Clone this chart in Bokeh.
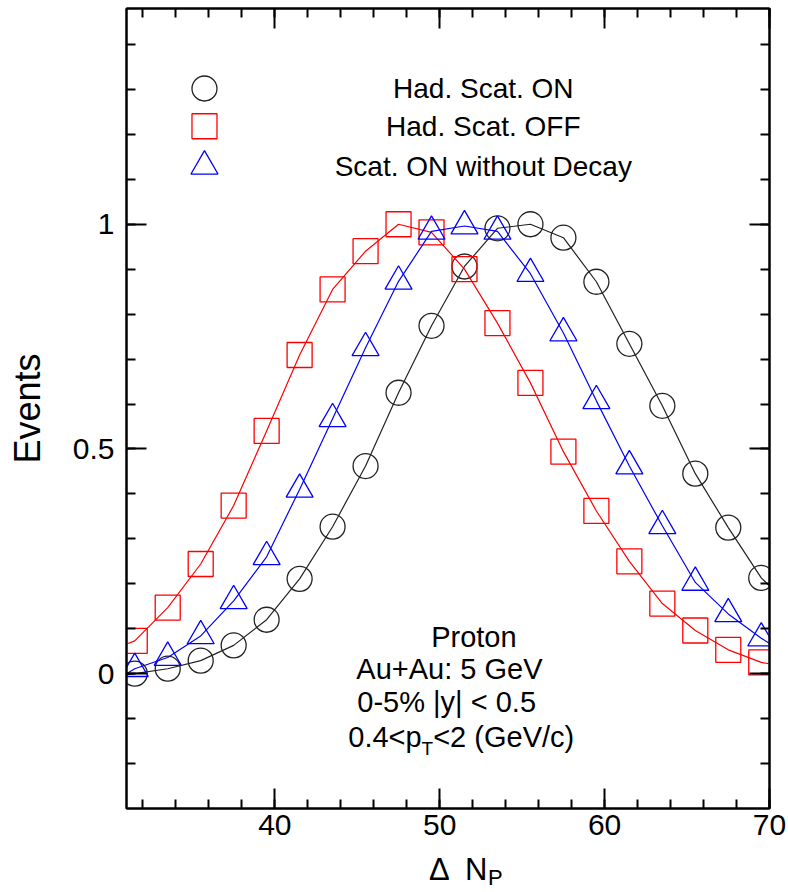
from bokeh.plotting import figure
from bokeh.models import LinearAxis, SingleIntervalTicker, CustomJSTickFormatter, Label, Div
from bokeh.layouts import column
from bokeh.core.properties import value
from bokeh.embed import file_html
from bokeh.resources import INLINE

FONT = "Liberation Sans"

# ---- data ----
delta_np = [31.5, 33.5, 35.5, 37.5, 39.5, 41.5, 43.5, 45.5, 47.5, 49.5,
            51.5, 53.5, 55.5, 57.5, 59.5, 61.5, 63.5, 65.5, 67.5, 69.5]
had_scat_on = [0.0, 0.011, 0.029, 0.063, 0.12, 0.211, 0.327, 0.462, 0.625, 0.774,
               0.906, 0.991, 1.0, 0.97, 0.872, 0.734, 0.596, 0.445, 0.325, 0.213]
had_scat_off = [0.073, 0.147, 0.244, 0.374, 0.54, 0.709, 0.855, 0.94, 1.0, 0.982,
                0.9, 0.78, 0.647, 0.494, 0.362, 0.25, 0.156, 0.096, 0.053, 0.025]
scat_on_no_decay = [0.011, 0.036, 0.084, 0.162, 0.26, 0.41, 0.567, 0.725, 0.873, 0.984,
                    0.996, 0.984, 0.89, 0.758, 0.607, 0.462, 0.329, 0.203, 0.133, 0.079]

# fitted curves: value at the frame edges (x = 31 and x = 70)
curve_edges_x = [31.0, 70.0]
had_scat_on_edges = [-0.003, 0.195]
had_scat_off_edges = [0.066, 0.022]
scat_on_no_decay_edges = [0.0, 0.067]

legend_labels = ["Had. Scat. ON", "Had. Scat. OFF", "Scat. ON without Decay"]
series_colors = ["#222222", "#ff0000", "#0000ff"]
series_markers = ["circle", "square", "triangle"]

p = figure(width=788, height=850, x_range=(31, 70), y_range=(-0.3, 1.48),
           output_backend="svg", toolbar_location=None,
           min_border_left=126, min_border_right=19, min_border_top=8, min_border_bottom=42)
p.grid.visible = False
p.outline_line_color = "black"
p.outline_line_width = 2
p.background_fill_color = "white"
p.border_fill_color = "white"


def style_axis(ax, interval, show_labels):
    ax.ticker = SingleIntervalTicker(interval=interval, num_minor_ticks=5)
    ax.axis_line_width = 2
    ax.axis_line_color = "black"
    ax.major_tick_in = 20
    ax.major_tick_out = 0
    ax.minor_tick_in = 9
    ax.minor_tick_out = 0
    ax.major_tick_line_width = 2
    ax.minor_tick_line_width = 2
    ax.major_label_text_font = FONT
    ax.major_label_text_font_size = "30px"
    ax.major_label_text_color = "black"
    if not show_labels:
        ax.formatter = CustomJSTickFormatter(code="return ''")
        ax.major_label_standoff = 0
        ax.major_label_text_font_size = "1px"


style_axis(p.xaxis[0], 10, True)
style_axis(p.yaxis[0], 0.5, True)
p.yaxis[0].formatter = CustomJSTickFormatter(code="return String(Math.round(tick*100)/100)")
p.xaxis[0].major_label_standoff = 6
p.yaxis[0].major_label_standoff = 12
p.yaxis[0].axis_label = "Events"
p.yaxis[0].axis_label_text_font = FONT
p.yaxis[0].axis_label_text_font_size = "36px"
p.yaxis[0].axis_label_text_font_style = "normal"
p.yaxis[0].axis_label_text_color = "black"
p.yaxis[0].axis_label_standoff = 22

top_ax = LinearAxis()
style_axis(top_ax, 10, False)
p.add_layout(top_ax, "above")
right_ax = LinearAxis()
style_axis(right_ax, 0.5, False)
p.add_layout(right_ax, "right")

# ---- series ----
series = [had_scat_on, had_scat_off, scat_on_no_decay]
edges = [had_scat_on_edges, had_scat_off_edges, scat_on_no_decay_edges]
for vals, edg, col, mk in zip(series, edges, series_colors, series_markers):
    cx = [curve_edges_x[0]] + delta_np + [curve_edges_x[1]]
    cy = [edg[0]] + vals + [edg[1]]
    p.line(cx, cy, line_color=col, line_width=1.2)
    size = 25 if mk != "triangle" else 27
    p.scatter(delta_np, vals, marker=mk, size=size, fill_color=None,
              line_color=col, line_width=1.3)

# ---- legend (markers + centred texts) ----
leg_x = 35.73
leg_y = [1.302, 1.218, 1.129]
for yv, col, mk in zip(leg_y, series_colors, series_markers):
    size = 25 if mk != "triangle" else 27
    p.scatter([leg_x], [yv], marker=mk, size=size, fill_color=None,
              line_color=col, line_width=1.3)
p.text(x=[52.64] * 3, y=leg_y, text=legend_labels, text_font=value(FONT),
       text_font_size=value("28px"), text_align="center", text_baseline="middle",
       text_color="black")


# ---- annotation ----
def add_label(x, y, txt, size):
    p.add_layout(Label(x=x, y=y, text=txt, text_font=FONT, text_font_size=size,
                       text_align="left", text_baseline="alphabetic", text_color="black"))


add_label(49.48, 0.082, "Proton", "29px")
add_label(44.94, 0.011, "Au+Au: 5 GeV", "29px")
add_label(45.0, -0.064, "0-5% |y| < 0.5", "29px")
add_label(44.45, -0.142, "0.4<p", "29px")
add_label(48.9, -0.167, "T", "19px")
add_label(49.6, -0.142, "<2 (GeV/c)", "29px")

# ---- x axis title  "Δ N_P" (below the figure) ----
title_html = (
    "<div style=\"position:relative;width:788px;height:42px;font-family:'Liberation Sans';color:black;\">"
    "<span style=\"position:absolute;left:429px;top:4px;font-size:31px;line-height:31px;\">Δ</span>"
    "<span style=\"position:absolute;left:465px;top:4px;font-size:31px;line-height:31px;\">N</span>"
    "<span style=\"position:absolute;left:488px;top:17px;font-size:22px;line-height:22px;\">P</span>"
    "</div>"
)
xtitle = Div(text=title_html, width=788, height=42, margin=0)

layout = column(p, xtitle, spacing=0)
open("out.html", "w").write(file_html(layout, INLINE))
